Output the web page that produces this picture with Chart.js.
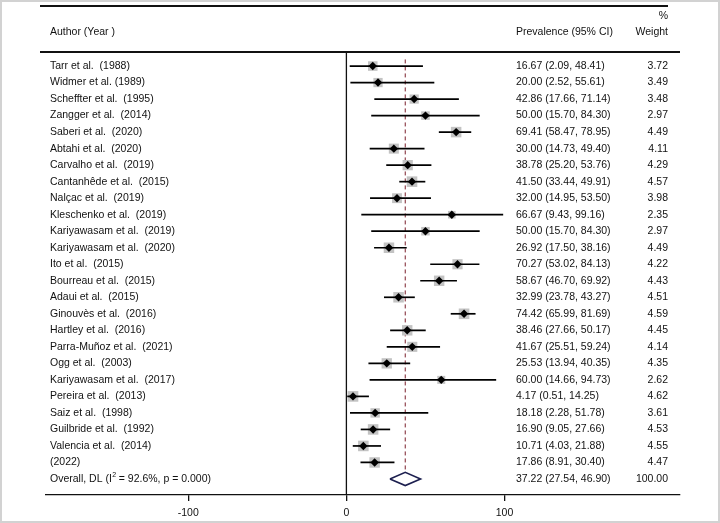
<!DOCTYPE html>
<html>
<head>
<meta charset="utf-8">
<script src="https://cdn.jsdelivr.net/npm/chart.js@4.4.1/dist/chart.umd.min.js"></script>
<style>
  html, body { margin:0; padding:0; background:#fff; }
  #wrap { width:720px; height:523px; position:relative; }
</style>
</head>
<body>
<div id="wrap"><canvas id="forest" width="720" height="523"></canvas></div>
<script>
// study rows, top to bottom
const authors = [
  'Tarr et al.  (1988)', 'Widmer et al. (1989)', 'Scheffter et al.  (1995)', 'Zangger et al.  (2014)',
  'Saberi et al.  (2020)', 'Abtahi et al.  (2020)', 'Carvalho et al.  (2019)', 'Cantanhêde et al.  (2015)',
  'Nalçac et al.  (2019)', 'Kleschenko et al.  (2019)', 'Kariyawasam et al.  (2019)', 'Kariyawasam et al.  (2020)',
  'Ito et al.  (2015)', 'Bourreau et al.  (2015)', 'Adaui et al.  (2015)', 'Ginouvès et al.  (2016)',
  'Hartley et al.  (2016)', 'Parra-Muñoz et al.  (2021)', 'Ogg et al.  (2003)', 'Kariyawasam et al.  (2017)',
  'Pereira et al.  (2013)', 'Saiz et al.  (1998)', 'Guilbride et al.  (1992)', 'Valencia et al.  (2014)', '(2022)'
];
const prevalence = [16.67, 20.00, 42.86, 50.00, 69.41, 30.00, 38.78, 41.50, 32.00, 66.67, 50.00, 26.92, 70.27,
  58.67, 32.99, 74.42, 38.46, 41.67, 25.53, 60.00, 4.17, 18.18, 16.90, 10.71, 17.86];
const ciLow = [2.09, 2.52, 17.66, 15.70, 58.47, 14.73, 25.20, 33.44, 14.95, 9.43, 15.70, 17.50, 53.02,
  46.70, 23.78, 65.99, 27.66, 25.51, 13.94, 14.66, 0.51, 2.28, 9.05, 4.03, 8.91];
const ciHigh = [48.41, 55.61, 71.14, 84.30, 78.95, 49.40, 53.76, 49.91, 53.50, 99.16, 84.30, 38.16, 84.13,
  69.92, 43.27, 81.69, 50.17, 59.24, 40.35, 94.73, 14.25, 51.78, 27.66, 21.88, 30.40];
const weights = [3.72, 3.49, 3.48, 2.97, 4.49, 4.11, 4.29, 4.57, 3.98, 2.35, 2.97, 4.49, 4.22,
  4.43, 4.51, 4.59, 4.45, 4.14, 4.35, 2.62, 4.62, 3.61, 4.53, 4.55, 4.47];
const overallEst = 37.22, overallLow = 27.54, overallHigh = 46.90, overallWeight = 100.00;
const xTicks = [-100, 0, 100];

const FONT = '10.5px "Liberation Sans", Arial, sans-serif';
const TXT = '#111';
const nRows = authors.length + 1;           // + overall row
const rowY = i => i + 1;

// CI line per study
const ciSets = authors.map((a, i) => ({
  type: 'scatter', showLine: true,
  data: [{x: ciLow[i], y: rowY(i)}, {x: ciHigh[i], y: rowY(i)}],
  borderColor: '#000', borderWidth: 1.7, pointRadius: 0, order: 3
}));

const squares = {
  type: 'scatter',
  data: prevalence.map((p, i) => ({x: p, y: rowY(i)})),
  pointStyle: 'rect', backgroundColor: '#c3c3c3', borderWidth: 0,
  pointRadius: weights.map(w => 3.5 * Math.sqrt(w)), order: 4
};
const dots = {
  type: 'scatter',
  data: prevalence.map((p, i) => ({x: p, y: rowY(i)})),
  pointStyle: 'rectRot', backgroundColor: '#000', borderWidth: 0, pointRadius: 4.2, order: 1
};
const oy = nRows;
const diamond = {
  type: 'scatter', showLine: true,
  data: [{x: overallLow, y: oy}, {x: overallEst, y: oy - 0.4}, {x: overallHigh, y: oy},
         {x: overallEst, y: oy + 0.4}, {x: overallLow, y: oy}],
  borderColor: '#1c1f4f', borderWidth: 1.6, pointRadius: 0, fill: false, order: 1
};
const refLine = {
  type: 'scatter', showLine: true,
  data: [{x: overallEst, y: 0.6}, {x: overallEst, y: oy - 0.4}],
  borderColor: '#7a1f2b', borderWidth: 1, borderDash: [4, 3], pointRadius: 0, order: 5
};

const forestText = {
  id: 'forestText',
  beforeDraw(chart) {
    const c = chart.ctx;
    c.save();
    c.strokeStyle = '#d2d2d2'; c.lineWidth = 2;
    c.strokeRect(1, 1, 718, 521);
    c.restore();
  },
  afterDraw(chart) {
    const c = chart.ctx, xs = chart.scales.x, ys = chart.scales.y, area = chart.chartArea;
    c.save();
    // frame lines
    c.strokeStyle = '#111'; c.lineWidth = 2;
    c.beginPath(); c.moveTo(40, 6); c.lineTo(668, 6); c.stroke();
    c.beginPath(); c.moveTo(40, area.top); c.lineTo(680, area.top); c.stroke();
    c.lineWidth = 1.3;
    const x0 = xs.getPixelForValue(0);
    c.beginPath(); c.moveTo(x0, area.top); c.lineTo(x0, area.bottom); c.stroke();

    c.font = FONT; c.fillStyle = TXT; c.textBaseline = 'middle';
    // header
    c.textAlign = 'left';
    c.fillText('Author (Year )', 50, 32);
    c.fillText('Prevalence (95% CI)', 516, 32);
    c.textAlign = 'right';
    c.fillText('%', 668, 16);
    c.fillText('Weight', 668, 32);

    const fmt = v => v.toFixed(2);
    authors.forEach((a, i) => {
      const y = ys.getPixelForValue(rowY(i));
      c.textAlign = 'left';
      c.fillText(a, 50, y);
      c.fillText(fmt(prevalence[i]) + ' (' + fmt(ciLow[i]) + ', ' + fmt(ciHigh[i]) + ')', 516, y);
      c.textAlign = 'right';
      c.fillText(fmt(weights[i]), 668, y);
    });
    // overall row with superscript
    const y = ys.getPixelForValue(oy);
    c.textAlign = 'left';
    let x = 50;
    const p1 = 'Overall, DL (I';
    c.fillText(p1, x, y); x += c.measureText(p1).width;
    c.font = '7px "Liberation Sans", Arial, sans-serif';
    c.fillText('2', x + 0.5, y - 4); x += 4;
    c.font = FONT;
    c.fillText(' = 92.6%, p = 0.000)', x, y);
    c.fillText(fmt(overallEst) + ' (' + fmt(overallLow) + ', ' + fmt(overallHigh) + ')', 516, y);
    c.textAlign = 'right';
    c.fillText(fmt(overallWeight), 668, y);
    c.restore();
  }
};

new Chart(document.getElementById('forest'), {
  type: 'scatter',
  data: { datasets: [refLine, ...ciSets, squares, dots, diamond] },
  options: {
    responsive: false, animation: false, devicePixelRatio: 1,
    layout: { padding: { left: 46, right: 40, top: 52, bottom: 0 } },
    plugins: { legend: { display: false }, tooltip: { enabled: false } },
    scales: {
      x: {
        type: 'linear', min: -190, max: 211,
        afterBuildTicks: s => { s.ticks = xTicks.map(v => ({value: v})); },
        afterFit: s => { s.height = 28; },
        border: { color: '#111', width: 1.3 },
        grid: { drawOnChartArea: false, drawTicks: true, tickLength: 6, color: '#111', lineWidth: 1.3 },
        ticks: { color: TXT, padding: 6, font: { family: '"Liberation Sans", Arial, sans-serif', size: 10.5 },
          maxRotation: 0, autoSkip: false }
      },
      y: { type: 'linear', reverse: true, min: 0.15, max: 26.97, display: false }
    }
  },
  plugins: [forestText]
});
</script>
</body>
</html>
